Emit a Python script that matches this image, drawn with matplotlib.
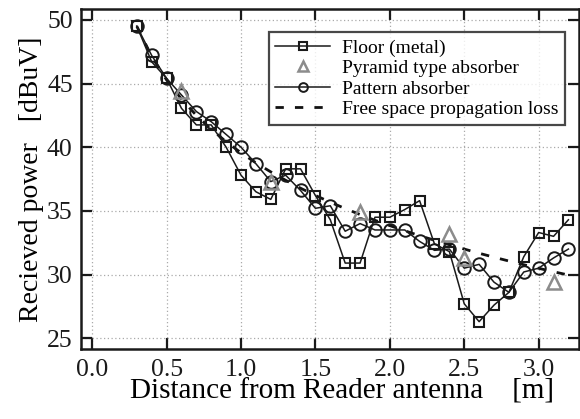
import matplotlib
matplotlib.use("Agg")
import matplotlib.pyplot as plt

plt.rcParams['font.family'] = ['Liberation Serif', 'DejaVu Serif']

x = [0.3, 0.4, 0.5, 0.6, 0.7, 0.8, 0.9, 1.0, 1.1, 1.2, 1.3, 1.4, 1.5, 1.6, 1.7,
     1.8, 1.9, 2.0, 2.1, 2.2, 2.3, 2.4, 2.5, 2.6, 2.7, 2.8, 2.9, 3.0, 3.1, 3.2]

floor_metal = [49.5, 46.7, 45.4, 43.05, 41.75, 41.75, 40.0, 37.8, 36.5, 35.9,
               38.3, 38.3, 36.2, 34.3, 30.9, 30.9, 34.5, 34.5, 35.1, 35.8,
               32.4, 31.8, 27.7, 26.3, 27.6, 28.6, 31.4, 33.3, 33.0, 34.3]

pattern_absorber = [49.5, 47.2, 45.4, 44.1, 42.8, 42.0, 41.0, 40.0, 38.7, 37.3,
                    37.8, 36.6, 35.2, 35.4, 33.4, 34.0, 33.5, 33.5, 33.5, 32.6,
                    31.9, 32.0, 30.5, 30.8, 29.4, 28.6, 30.2, 30.5, 31.3, 32.0]

pyramid_x = [0.6, 1.2, 1.8, 2.4, 2.5, 3.1]
pyramid_absorber = [44.4, 37.3, 34.9, 33.2, 31.3, 29.4]

free_space = [49.49, 47.12, 45.28, 43.77, 42.50, 41.40, 40.43, 39.56, 38.77, 38.06,
              37.40, 36.78, 36.21, 35.68, 35.18, 34.71, 34.26, 33.84, 33.44, 33.05,
              32.69, 32.34, 32.00, 31.67, 31.36, 31.06, 30.77, 30.49, 30.22, 29.96]

xticks = [0.0, 0.5, 1.0, 1.5, 2.0, 2.5, 3.0]
yticks = [25, 30, 35, 40, 45, 50]

fig = plt.figure(figsize=(5.8, 4.19), dpi=100)
ax = fig.add_axes([0.1397, 0.167, 0.8583, 0.8115])

ax.plot(x, floor_metal, color='#1a1a1a', lw=1.1, marker='s', ms=7.5,
        mfc='none', mec='#1a1a1a', mew=1.5, label='Floor (metal)', zorder=3)
ax.plot(pyramid_x, pyramid_absorber, ls='none', marker='^', ms=9.5,
        mfc='none', mec='#8c8c8c', mew=1.8, label='Pyramid type absorber', zorder=4)
ax.plot(x, pattern_absorber, color='#1a1a1a', lw=1.1, marker='o', ms=9,
        mfc='none', mec='#1a1a1a', mew=1.4, label='Pattern absorber', zorder=3)
ax.plot(x, free_space, color='#111111', lw=2.0, ls=(0, (3, 4)),
        label='Free space propagation loss', zorder=2)

ax.set_xlim(-0.075, 3.27)
ax.set_ylim(24.15, 50.85)
ax.set_xticks(xticks)
ax.set_xticklabels([f"{v:.1f}" for v in xticks])
ax.set_yticks(yticks)
ax.grid(True, ls=(0, (1, 2)), color='#aaaaaa', lw=0.9)
ax.tick_params(direction='in', length=8, width=1.6, top=True, right=True,
               labelsize=18.5, colors='#1a1a1a')
ax.tick_params(axis='x', pad=7)
ax.tick_params(axis='y', pad=6)
for s in ax.spines.values():
    s.set_linewidth(1.8)
    s.set_color('#1a1a1a')

ax.set_xlabel('Distance from Reader antenna    [m]', fontsize=21, labelpad=-1.5,
              x=0.525, ha='center')
ax.set_ylabel('Recieved power   [dBuV]', fontsize=20, labelpad=2)

leg = ax.legend(loc='upper right', bbox_to_anchor=(0.972, 0.932), fontsize=14,
                frameon=True, fancybox=False, edgecolor='#1a1a1a',
                handlelength=2.8, borderpad=0.35, labelspacing=0.15,
                handletextpad=0.6, borderaxespad=0, markerscale=0.7)
leg.get_frame().set_linewidth(1.6)
leg.set_zorder(5)

fig.savefig('out.png', dpi=100)
